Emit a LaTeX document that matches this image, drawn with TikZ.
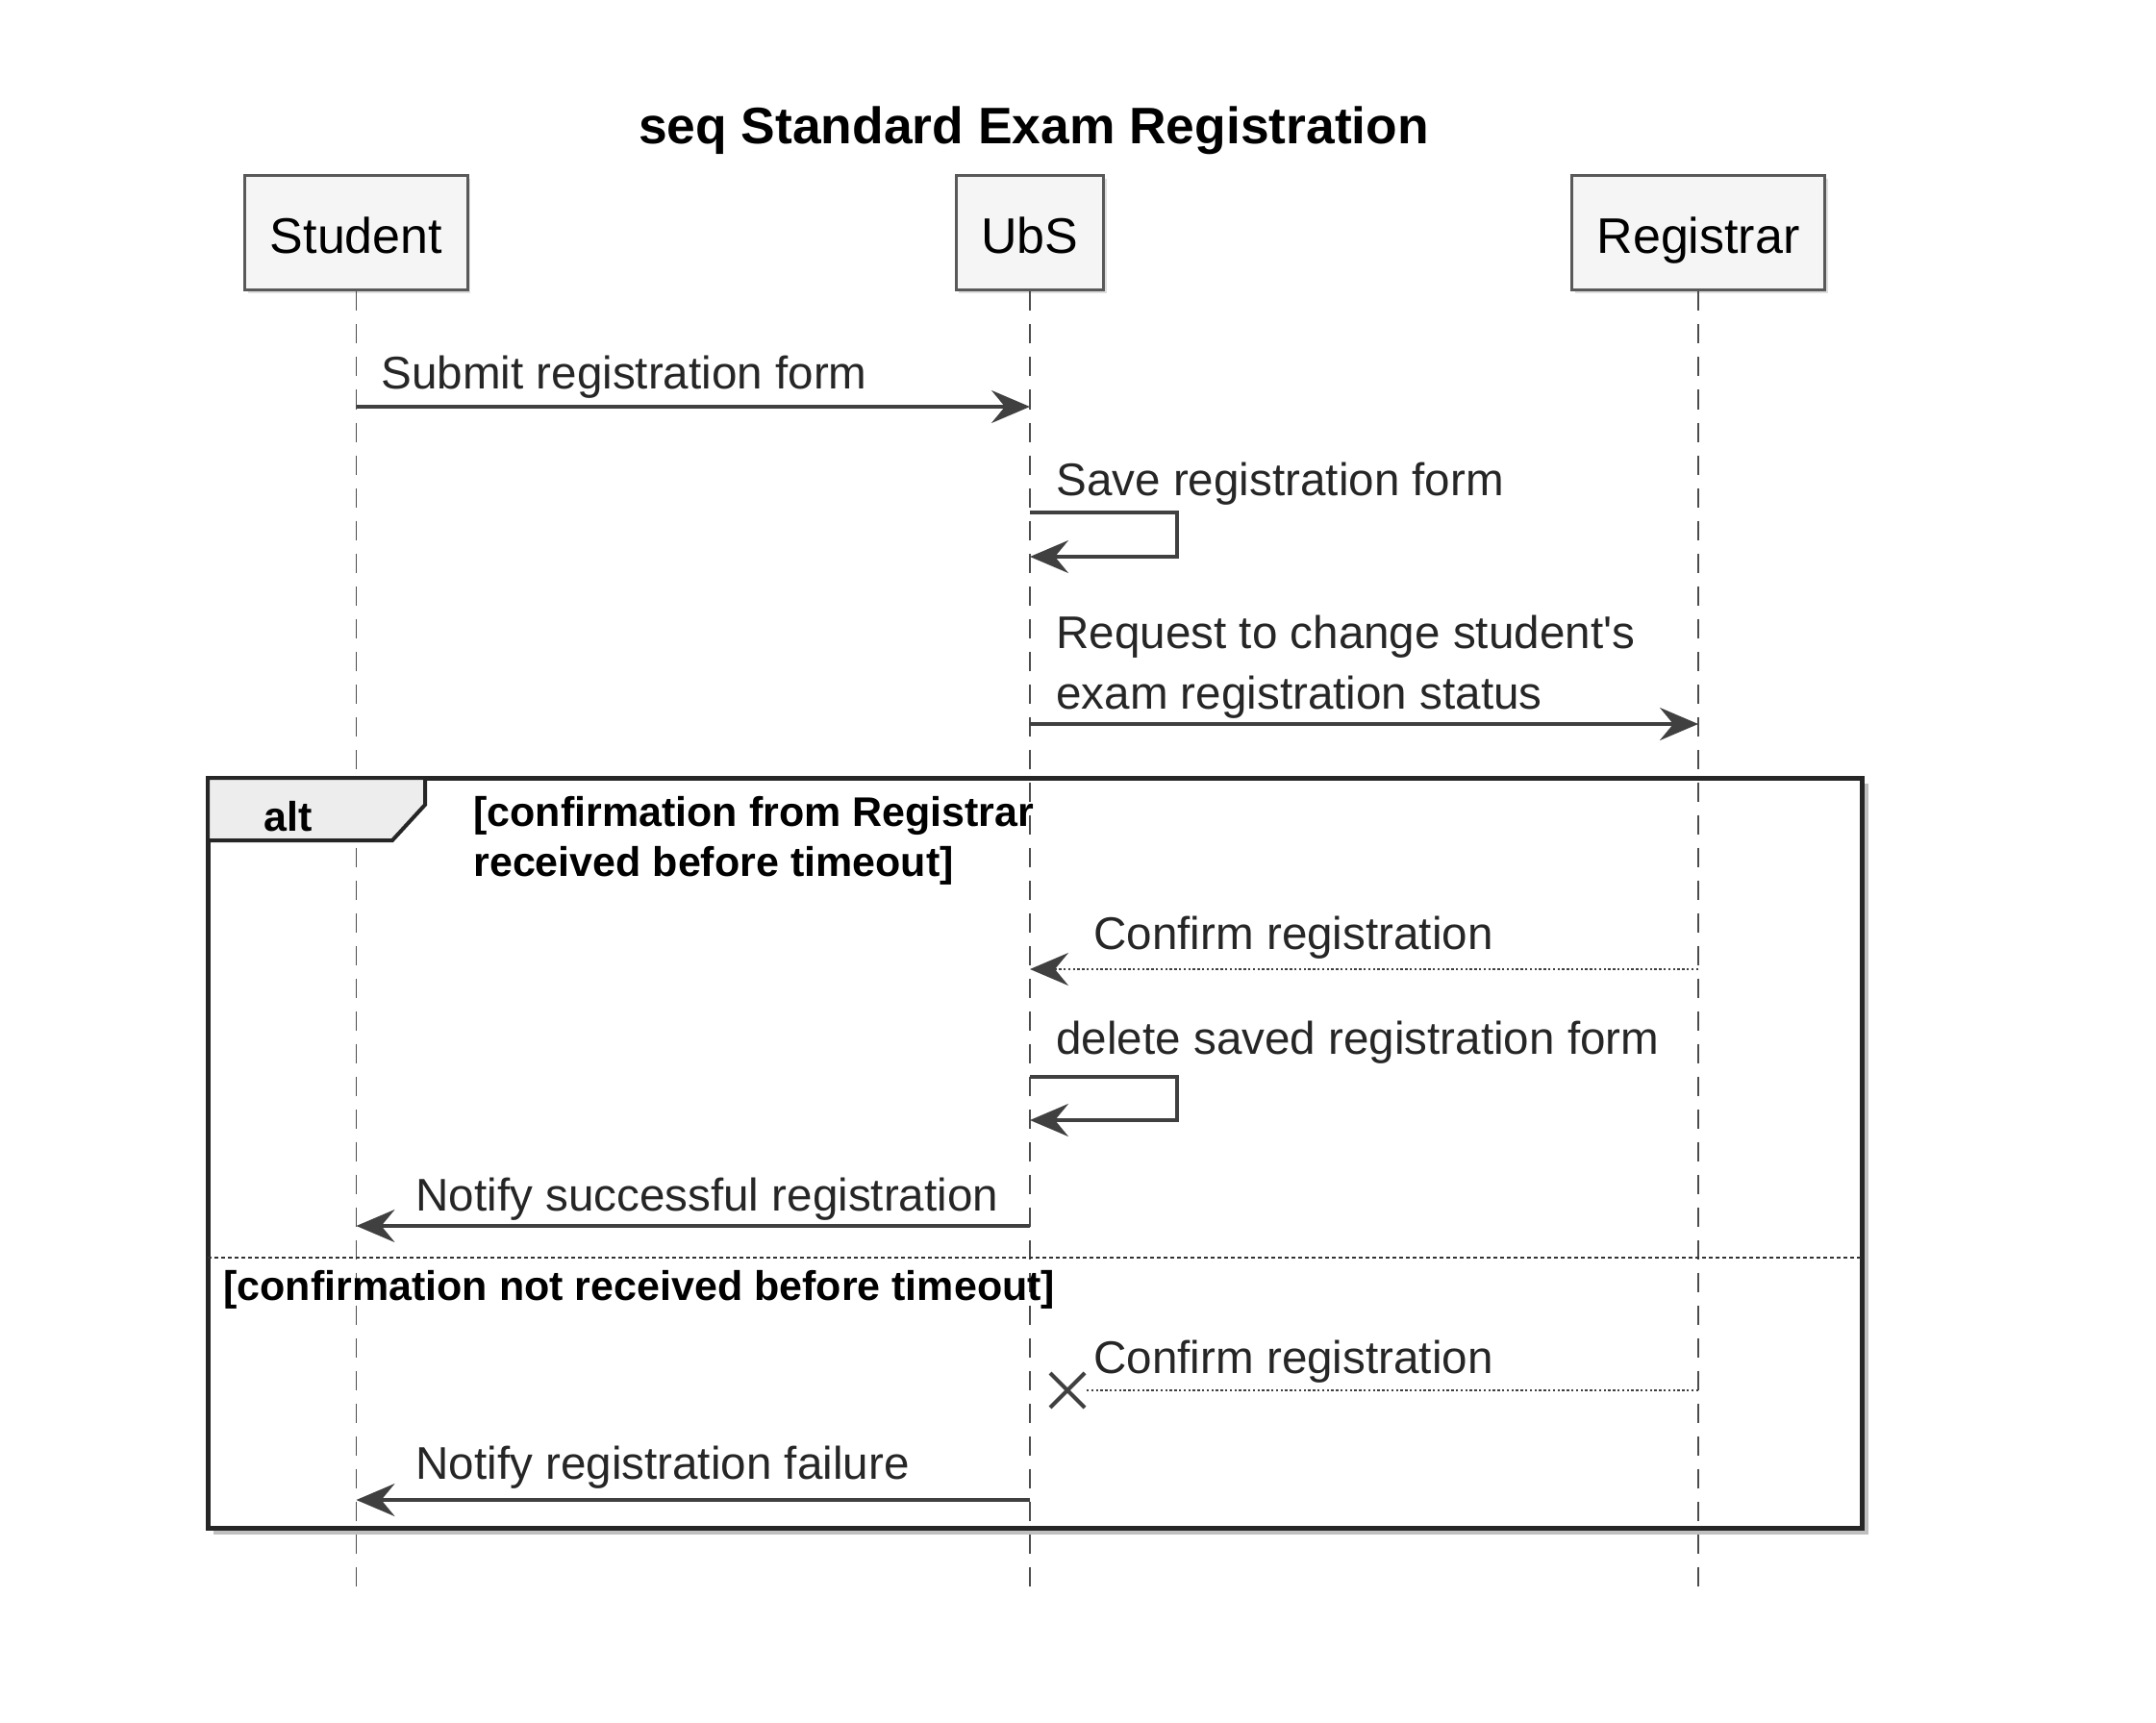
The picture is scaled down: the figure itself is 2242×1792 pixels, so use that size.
\documentclass[tikz,border=0pt]{standalone}
\usepackage{fontspec}
\setmainfont{Liberation Sans}
\usetikzlibrary{arrows.meta,positioning,shadows}
\tikzstyle{actor}=[draw=black!65,line width=1.5pt,fill=black!4,inner xsep=13pt,minimum height=59.5pt,text height=22.5pt,text depth=1.5pt,font=\fontsize{26}{30}\selectfont,drop shadow={shadow xshift=1.5pt,shadow yshift=-1.5pt,opacity=0.25}]
\tikzstyle{lifeline}=[draw=black!70,line width=0.8pt,dash pattern=on 10pt off 7pt]
\tikzstyle{msg}=[draw=black!75,line width=1.6pt,-{Stealth[length=20pt,width=17pt,inset=7pt]}]
\tikzstyle{reply}=[msg,line width=1.2pt,dash pattern=on 1.2pt off 1.2pt]
\tikzstyle{msgtext}=[anchor=west,inner sep=0pt,yshift=-1.5pt,text=black!85,align=left,font=\fontsize{23.8}{31.5}\selectfont]
\tikzstyle{guard}=[anchor=west,inner sep=0pt,yshift=-1.5pt,align=left,font=\bfseries\fontsize{21.5}{26}\selectfont]

\begin{document}
\begin{tikzpicture}[x=0.5pt,y=-0.5pt]
    \useasboundingbox (0,0) rectangle (2242,1792);
    % Title and participants
    \node[font=\bfseries\fontsize{26.7}{30}\selectfont] (title) at (1075,136) {seq Standard Exam Registration};
    \foreach \pos/\name/\txt in {{(370.5,242.5)/student/Student}, {(1071,242.5)/ubs/UbS}, {(1766,242.5)/registrar/Registrar}}
        \node[actor] (\name) at \pos {\txt};
    % Lifelines
    \foreach \name in {student, ubs, registrar} {
        \coordinate (\name-end) at (\name |- 0,1651);
        \path[lifeline] (\name.south) -- (\name-end);
    }

    % Messages before the alt block
    \node[msgtext] (submit) at (396,389) {Submit registration form};
    \path[msg] (student |- 0,423) -- (ubs |- 0,423);
    \node[msgtext] (save) at (1098,500) {Save registration form};
    \coordinate (loop1) at (1224,533);
    \path[msg] (ubs |- loop1) -- (loop1) -- (1224,579) -- (ubs |- 0,579);
    \node[msgtext] (request) at (1098,690.5) {Request to change student\textquotesingle s\\exam registration status};
    \path[msg] (ubs |- 0,753) -- (registrar |- 0,753);

    % The alt block
    \draw[black!25,line width=2pt] (222,1594) -- (1941,1594) -- (1941,815);
    \draw[black!85,line width=2.5pt] (216,809) rectangle (1936,1589);
    \draw[black!85,line width=2pt,fill=black!7] (216,809) -- (442,809) -- (442,837) -- (408,874) -- (216,874) -- cycle;
    \node[font=\bfseries\fontsize{21.5}{26}\selectfont,inner sep=0pt,yshift=-1.5pt] (alt) at (300,846) {alt};
    \node[guard] (guard1) at (492,871) {[confirmation from Registrar\\received before timeout]};
    \node[msgtext] (confirm1) at (1137,972) {Confirm registration};
    \path[reply] (registrar |- 0,1008) -- (ubs |- 0,1008);
    \node[msgtext] (delete) at (1098,1081) {delete saved registration form};
    \coordinate (loop2) at (1224,1120);
    \path[msg] (ubs |- loop2) -- (loop2) -- (1224,1165) -- (ubs |- 0,1165);
    \node[msgtext] (success) at (432,1244) {Notify successful registration};
    \path[msg] (ubs |- 0,1275) -- (student |- 0,1275);

    % Second operand
    \draw[black!80,line width=1pt,dash pattern=on 2pt off 1.5pt] (216,1308) -- (1936,1308);
    \node[guard] (guard2) at (232,1338) {[confirmation not received before timeout]};
    \node[msgtext] (confirm2) at (1137,1413) {Confirm registration};
    \coordinate (lost) at (1110,1446);
    \path[draw=black!75,line width=1.2pt,dash pattern=on 1.2pt off 1.2pt] (registrar |- lost) -- ([xshift=10pt]lost);
    \draw[black!75,line width=2pt] ([shift={(-18,-18)}]lost) -- ([shift={(18,18)}]lost)
        ([shift={(-18,18)}]lost) -- ([shift={(18,-18)}]lost);
    \node[msgtext] (failure) at (432,1523) {Notify registration failure};
    \path[msg] (ubs |- 0,1560) -- (student |- 0,1560);
\end{tikzpicture}
\end{document}
